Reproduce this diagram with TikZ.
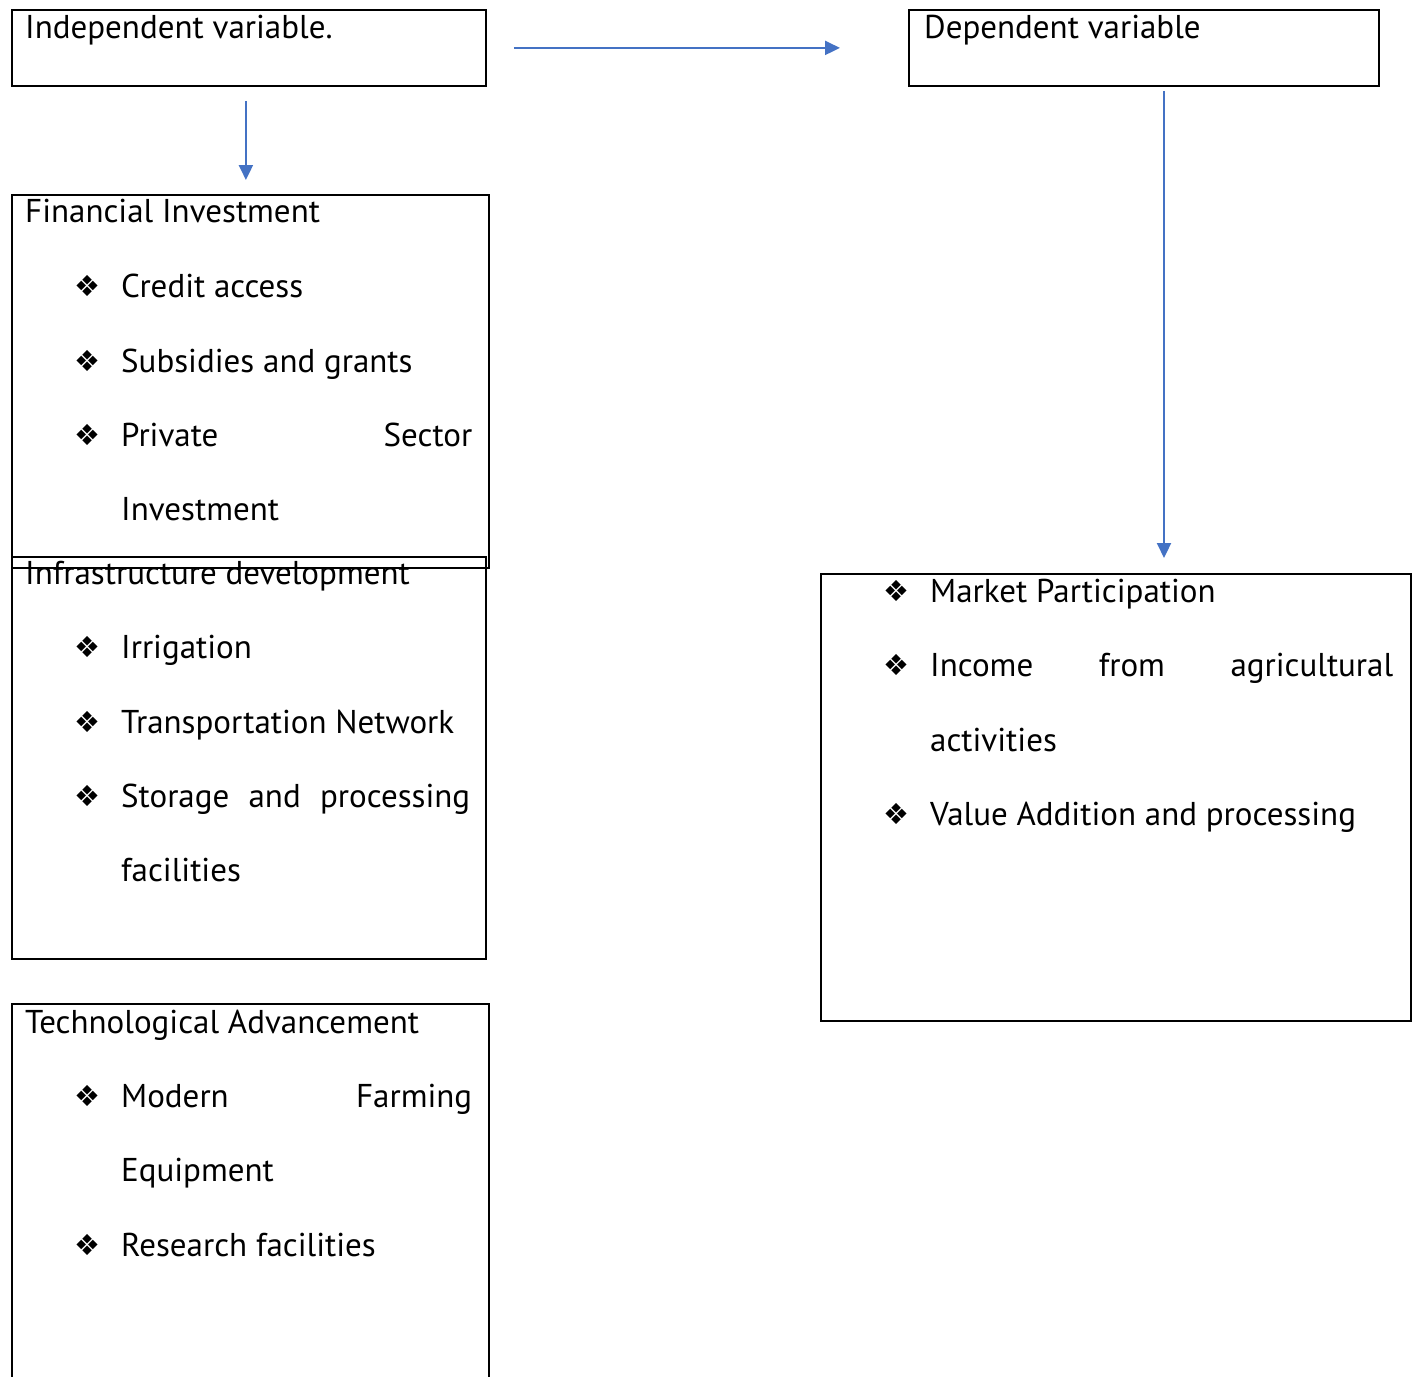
\documentclass[tikz,border=0pt]{standalone}
\usepackage{fontspec}
\setmainfont{PT Sans}
\newfontfamily\symfont{DejaVu Sans}
\usetikzlibrary{arrows.meta,positioning}

\definecolor{linkblue}{RGB}{68,114,196}
\newcommand{\dia}{{\symfont\fontsize{29}{32}\selectfont ❖}}

\begin{document}
\begin{tikzpicture}[
    x=1pt, y=-1pt,
    frame/.style={draw, line width=1.8pt, rectangle, anchor=north west, inner sep=0pt},
    txt/.style={anchor=base west, inner sep=0pt, font=\fontsize{33}{38}\selectfont},
    bul/.style={anchor=base west, inner sep=0pt},
    arrow/.style={-{Triangle[length=15pt,width=14pt]}, line width=2.2pt, linkblue}
]
    \path[use as bounding box, clip] (0,0) rectangle (1416,1376);

    % boxes
    \node[frame, minimum width=474pt, minimum height=76pt] (indep) at (11,9) {};
    \node[frame, minimum width=470pt, minimum height=76pt] (dep) at (908,9) {};
    \node[frame, minimum width=477pt, minimum height=373pt] (fin) at (11,194) {};
    \node[frame, minimum width=474pt, minimum height=402pt] (infra) at (11,556) {};
    \node[frame, minimum width=477pt, minimum height=400pt] (tech) at (11,1003) {};
    \node[frame, minimum width=590pt, minimum height=447pt] (outc) at (820,573) {};

    % titles
    \node[txt] (indeptxt) at (25,38) {Independent variable.};
    \node[txt] (deptxt) at (924,38) {Dependent variable};

    % financial investment
    \node[txt] (fintxt) at (25,222) {Financial Investment};
    \node[bul] (b1) at (74,296) {\dia};
    \node[txt] (f1) at (121,297) {Credit access};
    \node[bul] (b2) at (74,371) {\dia};
    \node[txt] (f2) at (121,372) {Subsidies and grants};
    \node[bul] (b3) at (74,445) {\dia};
    \node[txt] (f3) at (121,446) {\makebox[351pt][s]{Private Sector}};
    \node[txt] (f4) at (121,520) {Investment};

    % infrastructure development
    \node[txt] (infratxt) at (25,584) {Infrastructure development};
    \node[bul] (b4) at (74,657) {\dia};
    \node[txt] (i1) at (121,658) {Irrigation};
    \node[bul] (b5) at (74,732) {\dia};
    \node[txt] (i2) at (121,733) {Transportation Network};
    \node[bul] (b6) at (74,806) {\dia};
    \node[txt] (i3) at (121,807) {\makebox[349pt][s]{Storage and processing}};
    \node[txt] (i4) at (121,881) {facilities};

    % technological advancement
    \node[txt] (techtxt) at (25,1033) {Technological Advancement};
    \node[bul] (b7) at (74,1106) {\dia};
    \node[txt] (t1) at (121,1107) {\makebox[351pt][s]{Modern Farming}};
    \node[txt] (t2) at (121,1181) {Equipment};
    \node[bul] (b8) at (74,1255) {\dia};
    \node[txt] (t3) at (121,1256) {Research facilities};

    % outcomes
    \node[bul] (b9) at (883,601) {\dia};
    \node[txt] (o1) at (930,602) {Market Participation};
    \node[bul] (b10) at (883,675) {\dia};
    \node[txt] (o2) at (930,676) {\makebox[463pt][s]{Income from agricultural}};
    \node[txt] (o3) at (930,751) {activities};
    \node[bul] (b11) at (883,824) {\dia};
    \node[txt] (o4) at (930,825) {Value Addition and processing};

    % connectors
    \coordinate (rtip) at (1164,558);
    \draw[arrow, shorten <=27pt, shorten >=68pt] (indep.east) -- (dep.west);
    \draw[arrow, shorten <=14pt, shorten >=14pt] ([xshift=-3pt]indep.south) -- ([xshift=-4.5pt]fin.north);
    \draw[arrow, shorten <=4pt] (dep.south -| rtip) -- (rtip);
\end{tikzpicture}
\end{document}
